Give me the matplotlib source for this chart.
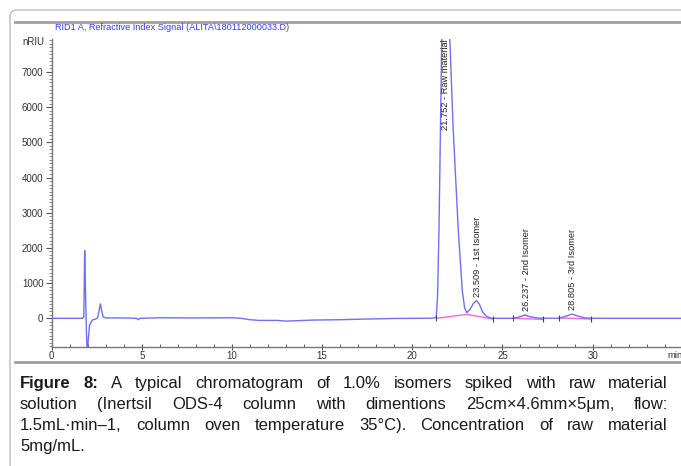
import matplotlib
matplotlib.use('Agg')
import matplotlib.pyplot as plt
from matplotlib import font_manager
from matplotlib.lines import Line2D
from matplotlib.patches import FancyBboxPatch
from matplotlib.transforms import IdentityTransform
from matplotlib.ticker import MultipleLocator

# chromatogram trace: retention time (min), signal (nRIU)
trace_time = [0.0, 1.70, 1.78, 1.83, 1.87, 1.92, 1.97, 2.03, 2.10, 2.25, 2.45, 2.55, 2.64, 2.70,
              2.76, 2.85, 3.0, 4.0, 4.70, 4.80, 4.90, 6.0, 8.0, 10.0, 10.5, 11.0, 11.5, 12.5, 13.0,
              13.5, 14.5, 16.0, 17.5, 19.0, 20.5, 21.20, 21.33, 21.40, 21.48, 21.63, 21.82, 22.09,
              22.27, 22.55, 22.77, 22.90, 23.02, 23.20, 23.40, 23.56, 23.72, 23.90, 24.10, 24.40,
              25.6, 25.9, 26.24, 26.55, 27.0, 28.1, 28.4, 28.87, 29.2, 29.6, 30.0, 32.0, 35.0]
trace_signal = [0, 0, 30, 1920, 900, -300, -1000, -600, -190, -50, -20, 20, 250, 410,
                250, 40, 10, 10, 0, -40, 0, 15, 10, 15, 0, -40, -60, -60, -80,
                -70, -50, -40, -20, -5, 0, 5, 40, 600, 2510, 7820, 9800, 7820,
                5350, 2510, 800, 300, 160, 250, 430, 500, 400, 180, 60, 0,
                0, 30, 95, 40, 5, 0, 40, 120, 60, 10, 0, 0, 0]

# integration baselines (pink) drawn under the peaks
base_time = [[21.33, 23.03, 24.46], [25.59, 27.23], [28.14, 29.91]]
base_signal = [[0, 110, -20], [0, -30], [10, -20]]

peak_times = [21.752, 23.509, 26.237, 28.805]
peak_names = ['Raw material', '1st Isomer', '2nd Isomer', '3rd Isomer']
peak_heights = [9800, 500, 95, 120]

caption = [
    [('Figure', True), ('8:', True)] + [(w, False) for w in
        'A typical chromatogram of 1.0% isomers spiked with raw material'.split()],
    [(w, False) for w in 'solution (Inertsil ODS-4 column with dimentions 25cm×4.6mm×5μm, flow:'.split()],
    [(w, False) for w in '1.5mL·min–1, column oven temperature 35°C). Concentration of raw material'.split()],
    [(w, False) for w in '5mg/mL.'.split()],
]

W, H = 681, 466


def has_font(name):
    try:
        font_manager.findfont(font_manager.FontProperties(family=name), fallback_to_default=False)
        return True
    except Exception:
        return False


plt.rcParams['font.family'] = ['Liberation Sans', 'DejaVu Sans']
cap_font = 'Liberation Sans Narrow' if has_font('Liberation Sans Narrow') else 'Liberation Sans'

fig = plt.figure(figsize=(W / 100, H / 100), dpi=100)
fig.patch.set_facecolor('white')


def fx(x):
    return x / W


def fy(y):
    return 1 - y / H


# frame around the figure
fig.add_artist(FancyBboxPatch((10, -30), 720, H - 10 + 30, boxstyle='round,pad=0,rounding_size=7',
                              transform=IdentityTransform(), facecolor='none',
                              edgecolor='#bdbdbd', linewidth=1.0))
fig.add_artist(Line2D([fx(15), 1], [fy(22), fy(22)], color='#a0a0a0', linewidth=2.0))
fig.add_artist(Line2D([fx(15), 1], [fy(362), fy(362)], color='#a0a0a0', linewidth=2.0))

# axes placed where the plot sits in the picture
x0, x_px = 51.7, 18.03    # pixel of t=0, pixels per minute
y0, y_px = 318.3, 35.2    # pixel of 0 nRIU, pixels per 1000
ax_top, ax_bot = 39.0, 346.7
ax = fig.add_axes([fx(x0), fy(ax_bot), fx(W - x0), (ax_bot - ax_top) / H])
ax.set_xlim(0, (W - x0) / x_px)
ax.set_ylim((y0 - ax_bot) / y_px * 1000, (y0 - ax_top) / y_px * 1000)

ax.plot(trace_time, trace_signal, color='#6f6ff5', linewidth=1.0, zorder=3)
for bt, bs in zip(base_time, base_signal):
    ax.plot(bt, bs, color='#f06ad2', linewidth=1.0, zorder=2)
    ax.plot([bt[0], bt[-1]], [bs[0], bs[-1]], linestyle='none', marker='|',
            markersize=4, color='#444444', markeredgewidth=0.8, zorder=4)

for t, name, h in zip(peak_times, peak_names, peak_heights):
    ly = min(h + 110, 5350)
    ax.text(t + 0.08, ly, f'{t:.3f} - {name}', rotation=90, ha='center', va='bottom',
            fontsize=6.7, color='#222222', zorder=5)

for side in ['top', 'right']:
    ax.spines[side].set_visible(False)
for side in ['left', 'bottom']:
    ax.spines[side].set_color('#777777')
    ax.spines[side].set_linewidth(1.0)
ax.patch.set_alpha(0)

ax.xaxis.set_major_locator(MultipleLocator(5))
ax.xaxis.set_minor_locator(MultipleLocator(1))
ax.yaxis.set_major_locator(MultipleLocator(1000))
ax.yaxis.set_minor_locator(MultipleLocator(100))
ax.tick_params(axis='x', which='major', direction='inout', length=5, width=0.8,
               color='#555555', labelsize=7, labelcolor='#333333', pad=0.5)
ax.tick_params(axis='x', which='minor', direction='in', length=2.5, width=0.7, color='#555555')
ax.tick_params(axis='y', which='major', direction='out', length=4, width=0.8,
               color='#555555', labelsize=7, labelcolor='#333333', pad=2)
ax.tick_params(axis='y', which='minor', direction='out', length=2, width=0.6, color='#777777')
ax.set_yticks([t for t in ax.get_yticks() if t >= 0 and t <= 7000])

fig.text(fx(44), fy(42), 'nRIU', ha='right', va='center', fontsize=7, color='#333333')
fig.text(fx(667), fy(356), 'min', ha='left', va='center', fontsize=6.8, color='#333333')
fig.text(fx(55), fy(27), r'RID1 A, Refractive Index Signal (ALITA\180112000033.D)',
         ha='left', va='center', fontsize=6.6, color='#3a3aff')

# caption, justified between x=20 and x=668; size chosen so the tightest line still fits
renderer = fig.canvas.get_renderer()
left, right = 20, 668
line_y = [383.3, 404.3, 425.3, 446.0]


def word_widths(words, size):
    out = []
    for w, bold in words:
        t = fig.text(0, 0, w, fontsize=size, family=cap_font,
                     fontweight='bold' if bold else 'normal')
        out.append(t.get_window_extent(renderer).width)
        t.remove()
    return out


cap_size = 12.0
while cap_size > 8:
    ok = all(sum(word_widths(ws, cap_size)) + 3.2 * (len(ws) - 1) <= right - left
             for ws in caption)
    if ok:
        break
    cap_size -= 0.1

for i, (words, yy) in enumerate(zip(caption, line_y)):
    objs = []
    for w, bold in words:
        objs.append(fig.text(0, fy(yy), w, ha='left', va='center', fontsize=cap_size,
                             family=cap_font, fontweight='bold' if bold else 'normal',
                             color='#1a1a1a'))
    widths = [o.get_window_extent(renderer).width for o in objs]
    if i < len(caption) - 1:
        gap = (right - left - sum(widths)) / (len(objs) - 1)
    else:
        gap = cap_size * 0.3
    x = left
    for o, wd in zip(objs, widths):
        o.set_x(fx(x))
        x += wd + gap

fig.savefig('out.png', dpi=100)
